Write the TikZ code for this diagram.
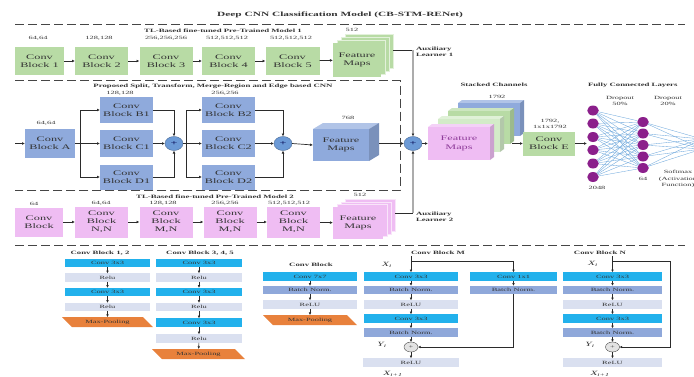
\documentclass[tikz,border=0pt]{standalone}
\usepackage{fontspec}
\setmainfont{Liberation Serif}
\newfontfamily\wideserif[FakeStretch=1.75]{Liberation Serif}
\usetikzlibrary{arrows.meta,shapes.geometric}

\definecolor{cgreen}{HTML}{B8DBA5}
\definecolor{clgreen}{HTML}{D3EBC8}
\definecolor{cblue}{HTML}{8FAADC}
\definecolor{cpink}{HTML}{EFBDF3}
\definecolor{ccyan}{HTML}{22B1EC}
\definecolor{cbn}{HTML}{8FA8DA}
\definecolor{crelu}{HTML}{DAE0F0}
\definecolor{corange}{HTML}{E8813C}
\definecolor{cneuron}{HTML}{8B1F8B}
\definecolor{cwire}{HTML}{6FA8DC}
\definecolor{csum}{HTML}{6C9AD6}
\definecolor{txt}{HTML}{333333}
\definecolor{linec}{HTML}{2B2B2B}
\definecolor{cpurple}{HTML}{8E3C9A}

\newcommand\ftTitle{\wideserif\bfseries\fontsize{6.5bp}{7.8bp}\selectfont}
\newcommand\ftMod{\wideserif\bfseries\fontsize{5bp}{6bp}\selectfont}
\newcommand\ftBlk{\wideserif\fontsize{7bp}{8.2bp}\selectfont}
\newcommand\ftDim{\wideserif\fontsize{4.8bp}{6.5bp}\selectfont}
\newcommand\ftBox{\wideserif\fontsize{4.8bp}{5.5bp}\selectfont}
\newcommand\ftVar{\wideserif\itshape\fontsize{6.5bp}{7bp}\selectfont}

\tikzset{
  every node/.style={inner sep=0pt, outer sep=0pt},
  blk/.style={rectangle, minimum width=53bp, minimum height=28bp, align=center, text=txt, font=\ftBlk},
  gblk/.style={blk, fill=cgreen},
  bblk/.style={blk, fill=cblue},
  pblk/.style={blk, fill=cpink},
  dim/.style={font=\ftDim, text=txt, align=center},
  modt/.style={font=\ftMod, text=txt, align=center},
  arr/.style={-{Latex[length=3bp,width=2.8bp]}, line width=0.7bp, draw=linec},
  plain/.style={line width=0.7bp, draw=linec},
  garr/.style={-{Latex[length=3bp,width=2.8bp,color=linec]}, line width=1.3bp, draw=gray!65},
  sep/.style={dashed, dash pattern=on 9bp off 4bp, line width=0.8bp, draw=gray!55!black},
  sumb/.style={ellipse, minimum width=18bp, minimum height=14bp, fill=csum, draw=csum!70!black, line width=0.4bp, font=\ftBlk, text=blue!30!black},
  neuron/.style={ellipse, minimum width=11.5bp, minimum height=10bp, fill=cneuron},
  wire/.style={line width=0.35bp, draw=cwire},
  sbox/.style={rectangle, minimum height=8.5bp, font=\ftBox, text=txt},
  cbox/.style={sbox, fill=ccyan},
  nbox/.style={sbox, fill=cbn},
  rbox/.style={sbox, fill=crelu},
  mpool/.style={sbox, minimum height=10bp, path picture={
      \fill[corange] (path picture bounding box.north west)
        -- ([xshift=-10bp]path picture bounding box.north east)
        -- (path picture bounding box.south east)
        -- ([xshift=10bp]path picture bounding box.south west) -- cycle;}},
  sarr/.style={-{Latex[length=2.6bp,width=2.6bp]}, line width=0.6bp, draw=linec},
  addb/.style={ellipse, minimum width=14bp, minimum height=10bp, fill=gray!22, draw=gray!55!black, line width=0.4bp, font=\ftBox, text=txt},
  var/.style={font=\ftVar, text=txt},
}

\begin{document}
\begin{tikzpicture}[x=1bp,y=-1bp]
\useasboundingbox (0,0) rectangle (694,376);

% ---------- title and separators ----------
\node[font=\ftTitle, text=txt] (title) at (340,15) {Deep CNN Classification Model (CB-STM-RENet)};
\draw[sep] (15,24) -- (685,24);
\draw[sep] (15,80.5) -- (400,80.5) -- (400,190) -- (15,190);
\draw[sep] (15,245) -- (685,245);

% ---------- pre-trained model 1 ----------
\node[modt] (t1) at (223,31) {TL-Based fine-tuned Pre-Trained Model 1};
\node[gblk, minimum width=49bp] (g1) at (39.5,61) {Conv\\Block 1};
\node[gblk] (g2) at (101.5,61) {Conv\\Block 2};
\node[gblk] (g3) at (166,61) {Conv\\Block 3};
\node[gblk] (g4) at (228.5,61) {Conv\\Block 4};
\node[gblk, minimum width=54bp] (g5) at (292.5,61) {Conv\\Block 5};
\node[dim] (dg1) at (38,38) {64,64};
\node[dim] (dg2) at (99,38) {128,128};
\node[dim] (dg3) at (166,38) {256,256,256};
\node[dim] (dg4) at (227,38) {512,512,512};
\node[dim] (dg5) at (291,38) {512,512,512};
\foreach \i in {3,2,1}
  \filldraw[fill=cgreen, draw=white!60!cgreen, line width=0.5bp] (333+4*\i,43-3*\i) rectangle ++(48,34);
\node[gblk, minimum width=48bp, minimum height=34bp] (fm1) at (357,60) {Feature\\Maps};
\node[dim] (dfm1) at (352,29.5) {512};
\draw[arr] (g1) -- (g2);
\draw[arr] (g2) -- (g3);
\draw[arr] (g3) -- (g4);
\draw[arr] (g4) -- (g5);
\draw[arr] (g5) -- (fm1);

% ---------- split, transform, merge CNN ----------
\node[modt] (t2) at (213,86.5) {Proposed Split, Transform, Merge-Region and Edge based CNN};
\node[bblk, minimum width=50bp, minimum height=29bp] (ba) at (50,143.5) {Conv\\Block A};
\node[dim] (dba) at (46,123) {64,64};
\node[bblk, minimum height=26bp] (b1) at (126.5,110) {Conv\\Block B1};
\node[bblk, minimum height=27bp] (c1) at (126.5,143.5) {Conv\\Block C1};
\node[bblk, minimum height=25bp] (d1) at (126.5,177) {Conv\\Block D1};
\node[dim] (db1) at (120,93) {128,128};
\node[sumb] (s1) at (174,143.5) {+};
\node[bblk, minimum height=26bp] (b2) at (228.5,110) {Conv\\Block B2};
\node[bblk, minimum height=27bp] (c2) at (228.5,143.5) {Conv\\Block C2};
\node[bblk, minimum height=25bp] (d2) at (228.5,177) {Conv\\Block D2};
\node[dim] (db2) at (225,93) {256,256};
\node[sumb] (s2) at (283,143.5) {+};
% feature-map cube
\fill[cblue!70!white] (313,129) -- (323,123) -- (379,123) -- (369,129) -- cycle;
\fill[cblue!85!black] (369,129) -- (379,123) -- (379,155) -- (369,161) -- cycle;
\node[bblk, minimum width=56bp, minimum height=32bp] (fm2) at (341,145) {Feature\\Maps};
\node[dim] (dfm2) at (348,118) {768};
\coordinate (fm2r) at (379,143.5);
\node[sumb] (s3) at (413,143.5) {+};

\coordinate (in0) at (15,143.5);
\coordinate (sp1) at (80,143.5);
\coordinate (sp2) at (186,143.5);
\draw[arr] (in0) -- (ba);
\draw[plain] (ba) -- (sp1);
\draw[arr] (sp1) |- (b1.west);
\draw[arr] (sp1) -- (c1.west);
\draw[arr] (sp1) |- (d1.west);
\draw[arr] (b1.east) -| (s1.north);
\draw[arr] (c1.east) -- (s1.west);
\draw[arr] (d1.east) -| (s1.south);
\draw[plain] (s1.east) -- (sp2);
\draw[arr] (sp2) |- (b2.west);
\draw[arr] (sp2) -- (c2.west);
\draw[arr] (sp2) |- (d2.west);
\draw[arr] (b2.east) -| (s2.north);
\draw[arr] (c2.east) -- (s2.west);
\draw[arr] (d2.east) -| (s2.south);
\draw[arr] (s2.east) -- (fm2.west);
\draw[arr] (fm2r) -- (s3.west);

% ---------- pre-trained model 2 ----------
\node[modt] (t3) at (215,197) {TL-Based fine-tuned Pre-Trained Model 2};
\node[pblk, minimum width=48bp, minimum height=29bp] (p1) at (39,222) {Conv\\Block};
\node[pblk, minimum height=31bp] (p2) at (101.5,222) {Conv\\Block\\N,N};
\node[pblk, minimum height=31bp] (p3) at (166,222) {Conv\\Block\\M,N};
\node[pblk, minimum height=31bp] (p4) at (230,222) {Conv\\Block\\M,N};
\node[pblk, minimum height=31bp] (p5) at (293.5,222) {Conv\\Block\\M,N};
\node[dim] (dp1) at (34,203.5) {64};
\node[dim] (dp2) at (101,203.5) {64,64};
\node[dim] (dp3) at (163,203.5) {128,128};
\node[dim] (dp4) at (225,203.5) {256,256};
\node[dim] (dp5) at (289,203.5) {512,512,512};
\foreach \i in {3,2,1}
  \filldraw[fill=cpink, draw=white!60!cpink, line width=0.5bp] (333+4*\i,207-2.5*\i) rectangle ++(50,32);
\node[pblk, minimum width=50bp, minimum height=32bp] (fm3) at (358,223) {Feature\\Maps};
\node[dim] (dfm3) at (360,194.5) {512};
\draw[arr] (p1) -- (p2);
\draw[arr] (p2) -- (p3);
\draw[arr] (p3) -- (p4);
\draw[arr] (p4) -- (p5);
\draw[arr] (p5) -- (fm3);

% ---------- auxiliary learners ----------
\coordinate (a1) at (393,50);
\coordinate (v1) at (413,50);
\coordinate (a2) at (395,213);
\coordinate (v2) at (413,213);
\draw[plain] (a1) -- (v1);
\draw[plain] (a2) -- (v2);
\draw[garr] (v1) -- (s3.north);
\draw[garr] (v2) -- (s3.south);
\node[modt, anchor=west, align=left] (al1) at (416,52) {Auxiliary\\Learner 1};
\node[modt, anchor=west, align=left] (al2) at (416,216.5) {Auxiliary\\Learner 2};

% ---------- stacked channels ----------
\node[modt] (t4) at (494,85) {Stacked Channels};
\foreach \i/\c in {3/cblue,2/cgreen,1/clgreen}{
  \begin{scope}[shift={(10*\i,-8*\i)}]
    \fill[\c!70!white] (428,127) -- (432,124) -- (494,124) -- (490,127) -- cycle;
    \fill[\c!85!black] (490,127) -- (494,124) -- (494,157) -- (490,160) -- cycle;
    \fill[\c] (428,127) rectangle (490,160);
  \end{scope}
}
\fill[cpink!70!white] (428,127) -- (432,124) -- (494,124) -- (490,127) -- cycle;
\fill[cpink!85!black] (490,127) -- (494,124) -- (494,157) -- (490,160) -- cycle;
\node[pblk, minimum width=62bp, minimum height=33bp, text=cpurple] (stk) at (459,143.5) {Feature\\Maps};
\node[dim] (dstk) at (497,97) {1792};
\coordinate (stkout) at (512,143.5);
\draw[arr] (s3.east) -- (stk.west);

\node[gblk, minimum width=52bp, minimum height=24bp] (ce) at (549,143.5) {Conv\\Block E};
\node[dim] (dce) at (550,124) {1792,\\1x1x1792};
\draw[arr] (stkout) -- (ce);

% ---------- fully connected layers ----------
\node[modt, anchor=west] (t5) at (588,85) {Fully Connected Layers};
\node[dim] (dr1) at (620,101) {Dropout\\50\%};
\node[dim] (dr2) at (668,101) {Dropout\\20\%};
\foreach \i/\yy in {1/110.5,2/123.5,3/137,4/150,5/163.5,6/177}
  \node[neuron] (n\i) at (593,\yy) {};
\foreach \j/\yy in {1/122,2/133.5,3/145,4/156.5,5/168}
  \node[neuron] (m\j) at (643,\yy) {};
\coordinate (o1) at (702,139);
\coordinate (o2) at (702,149);
\foreach \i in {1,...,6}
  \foreach \j in {1,...,5}
    \draw[wire] (n\i) -- (m\j);
\foreach \j in {1,...,5}{
  \draw[wire] (m\j) -- (o1);
  \draw[wire] (m\j) -- (o2);
}
\coordinate (fcin) at (587,143.5);
\draw[arr] (ce) -- (fcin);
\node[dim] (dn) at (597,187.5) {2048};
\node[dim] (dm) at (643,179) {64};
\node[dim] (soft) at (678,179) {Softmax\\(Activation\\Function)};

% ---------- conv block 1, 2 ----------
\node[modt] (h1) at (100,253) {Conv Block 1, 2};
\node[cbox, minimum width=85bp] (k11) at (107.5,263) {Conv 3x3};
\node[rbox, minimum width=85bp] (k12) at (107.5,277.5) {Relu};
\node[cbox, minimum width=85bp] (k13) at (107.5,292) {Conv 3x3};
\node[rbox, minimum width=85bp] (k14) at (107.5,307) {Relu};
\node[mpool, minimum width=91bp] (k15) at (107.5,322) {Max-Pooling};
\draw[sarr] (k11) -- (k12);
\draw[sarr] (k12) -- (k13);
\draw[sarr] (k13) -- (k14);
\draw[sarr] (k14) -- (k15);

% ---------- conv block 3, 4, 5 ----------
\node[modt] (h2) at (200,253) {Conv Block 3, 4, 5};
\node[cbox, minimum width=86bp] (k21) at (199,263) {Conv 3x3};
\node[rbox, minimum width=86bp] (k22) at (199,277.5) {Relu};
\node[cbox, minimum width=86bp] (k23) at (199,292) {Conv 3x3};
\node[rbox, minimum width=86bp] (k24) at (199,307) {Relu};
\node[cbox, minimum width=86bp] (k25) at (199,322.5) {Conv 3x3};
\node[rbox, minimum width=86bp] (k26) at (199,338.5) {Relu};
\node[mpool, minimum width=93bp] (k27) at (198.5,354) {Max-Pooling};
\draw[sarr] (k21) -- (k22);
\draw[sarr] (k22) -- (k23);
\draw[sarr] (k23) -- (k24);
\draw[sarr] (k24) -- (k25);
\draw[sarr] (k25) -- (k26);
\draw[sarr] (k26) -- (k27);

% ---------- conv block ----------
\node[modt] (h3) at (311,265) {Conv Block};
\node[cbox, minimum width=94bp] (k31) at (310,276.5) {Conv 7x7};
\node[nbox, minimum width=94bp] (k32) at (310,290) {Batch Norm.};
\node[rbox, minimum width=94bp] (k33) at (310,304.5) {ReLU};
\node[mpool, minimum width=94bp] (k34) at (310,320) {Max-Pooling};
\draw[sarr] (k31) -- (k32);
\draw[sarr] (k32) -- (k33);
\draw[sarr] (k33) -- (k34);

% ---------- conv block M (projection shortcut) ----------
\node[modt] (h4) at (438,253) {Conv Block M};
\node[cbox, minimum width=94bp] (k41) at (411,276.5) {Conv 3x3};
\node[nbox, minimum width=94bp] (k42) at (411,290) {Batch Norm.};
\node[rbox, minimum width=94bp] (k43) at (411,304.5) {ReLU};
\node[cbox, minimum width=94bp] (k44) at (411,318.5) {Conv 3x3};
\node[nbox, minimum width=94bp] (k45) at (411,332.5) {Batch Norm.};
\node[addb] (sum4) at (411,347) {+};
\node[rbox, minimum width=96bp] (k46) at (411,362.5) {ReLU};
\node[cbox, minimum width=87bp] (q1) at (513.5,276.5) {Conv 1x1};
\node[nbox, minimum width=87bp] (q2) at (513.5,290) {Batch Norm.};
\node[var] (xi4) at (387,265) {X\textsubscript{i}};
\node[var] (yi4) at (382,345) {Y\textsubscript{i}};
\node[var] (xo4) at (393,374) {X\textsubscript{i+1}};
\coordinate (x4) at (411,256);
\coordinate (t4) at (411,261);
\coordinate (t4r) at (513.5,261);
\draw[sarr] (x4) -- (k41);
\draw[plain, line width=0.6bp] (t4) -- (t4r);
\draw[sarr] (t4r) -- (q1);
\draw[sarr] (q1) -- (q2);
\draw[sarr] (q2.south) |- (sum4.east);
\draw[sarr] (k41) -- (k42);
\draw[sarr] (k42) -- (k43);
\draw[sarr] (k43) -- (k44);
\draw[sarr] (k44) -- (k45);
\draw[sarr] (k45) -- (sum4);
\draw[sarr] (sum4) -- (k46);

% ---------- conv block N (identity shortcut) ----------
\node[modt] (h5) at (600,253) {Conv Block N};
\node[cbox, minimum width=99bp] (k51) at (612.5,276.5) {Conv 3x3};
\node[nbox, minimum width=99bp] (k52) at (612.5,290) {Batch Norm.};
\node[rbox, minimum width=99bp] (k53) at (612.5,304.5) {ReLU};
\node[cbox, minimum width=99bp] (k54) at (612.5,318.5) {Conv 3x3};
\node[nbox, minimum width=99bp] (k55) at (612.5,332.5) {Batch Norm.};
\node[addb] (sum5) at (612.5,347) {+};
\node[rbox, minimum width=99bp] (k56) at (612.5,362.5) {ReLU};
\node[var] (xi5) at (593,264) {X\textsubscript{i}};
\node[var] (yi5) at (590,345) {Y\textsubscript{i}};
\node[var] (xo5) at (600,374) {X\textsubscript{i+1}};
\coordinate (x5) at (612.5,256);
\coordinate (t5) at (612.5,261);
\coordinate (t5r) at (670,261);
\draw[sarr] (x5) -- (k51);
\draw[sarr] (t5) -- (t5r) |- (sum5.east);
\draw[sarr] (k51) -- (k52);
\draw[sarr] (k52) -- (k53);
\draw[sarr] (k53) -- (k54);
\draw[sarr] (k54) -- (k55);
\draw[sarr] (k55) -- (sum5);
\draw[sarr] (sum5) -- (k56);
\end{tikzpicture}
\end{document}
